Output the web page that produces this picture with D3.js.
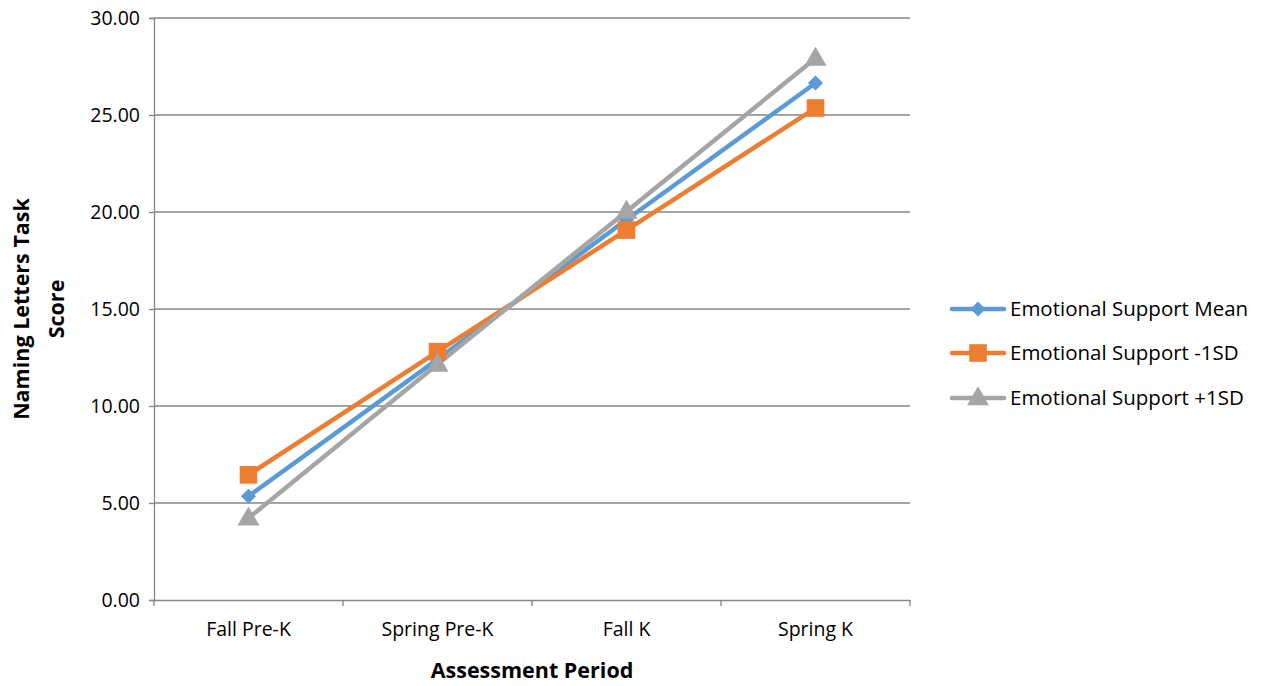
<!DOCTYPE html>
<html><head><meta charset="utf-8">
<script src="https://cdn.jsdelivr.net/npm/d3@7"></script>
<style>body{margin:0;background:#fff}svg{display:block}text{font-family:"Open Sans",Lato,sans-serif}</style>
</head><body><svg id="c" width="1269" height="686"></svg>
<script>
const categories = ["Fall Pre-K","Spring Pre-K","Fall K","Spring K"];
const seriesNames = ["Emotional Support Mean","Emotional Support -1SD","Emotional Support +1SD"];
const meanValues = [5.35, 12.40, 19.60, 26.65];
const minusValues = [6.45, 12.80, 19.07, 25.36];
const plusValues = [4.22, 12.15, 20.03, 27.92];
const yTicks = [0,5,10,15,20,25,30];
const colors = ["#5B9BD5","#ED7D31","#A5A5A5"];
const shapes = ["diamond","square","triangle"];
const series = [meanValues, minusValues, plusValues];

const svg = d3.select("#c");
const L=154,R=910,T=18,B=600;
const x = d3.scaleBand().domain(categories).range([L,R]).padding(0);
const y = d3.scaleLinear().domain([0,30]).range([B,T]);
const grid="#868686";
const FF='"Open Sans",sans-serif';

svg.append("g").selectAll("line").data(yTicks.filter(d=>d>0)).join("line")
  .attr("x1",L).attr("x2",R).attr("y1",d=>y(d)).attr("y2",d=>y(d))
  .attr("stroke",grid).attr("stroke-width",1.3);

const ya = svg.append("g").attr("transform",`translate(${L},0)`)
  .call(d3.axisLeft(y).tickValues(yTicks).tickFormat(d3.format(".2f")).tickSize(5).tickPadding(9));
ya.select(".domain").attr("stroke",grid).attr("stroke-width",1.3);
ya.selectAll(".tick line").attr("stroke",grid).attr("stroke-width",1.3);
ya.selectAll("text").attr("font-size",19.5).attr("fill","#000").style("font-family",FF);

const xa = svg.append("g").attr("transform",`translate(0,${B})`)
  .call(d3.axisBottom(x).tickSize(0).tickPadding(22));
xa.select(".domain").attr("stroke",grid).attr("stroke-width",1.3);
xa.selectAll("text").attr("font-size",19.5).attr("fill","#000").style("font-family",FF);
const bounds = [...categories.map(c=>x(c)), R];
xa.selectAll(".bt").data(bounds).join("line").attr("class","bt")
  .attr("x1",d=>d).attr("x2",d=>d).attr("y1",0).attr("y2",6)
  .attr("stroke",grid).attr("stroke-width",1.3);

const cx = c=>x(c)+x.bandwidth()/2;
function marker(g, shape, color, px, py){
  if(shape==="diamond"){
    g.append("path").attr("d",d3.symbol(d3.symbolSquare,115)()).attr("transform",`translate(${px},${py}) rotate(45)`).attr("fill",color);
  } else if(shape==="square"){
    g.append("path").attr("d",d3.symbol(d3.symbolSquare,310)()).attr("transform",`translate(${px},${py})`).attr("fill",color);
  } else {
    g.append("path").attr("d",d3.symbol(d3.symbolTriangle,210)()).attr("transform",`translate(${px},${py+1})`).attr("fill",color);
  }
}

const line = d3.line().x((d,i)=>cx(categories[i])).y(d=>y(d));
series.forEach((vals,si)=>{
  svg.append("path").attr("d",line(vals)).attr("fill","none").attr("stroke",colors[si]).attr("stroke-width",4.5).attr("stroke-linejoin","round").attr("stroke-linecap","round");
});
series.forEach((vals,si)=>{
  const g = svg.append("g");
  vals.forEach((v,i)=>marker(g,shapes[si],colors[si],cx(categories[i]),y(v)));
});

const legY=[309,353,398];
seriesNames.forEach((n,i)=>{
  const g=svg.append("g");
  g.append("line").attr("x1",952).attr("x2",1004).attr("y1",legY[i]).attr("y2",legY[i]).attr("stroke",colors[i]).attr("stroke-width",4.5).attr("stroke-linecap","round");
  marker(g,shapes[i],colors[i],978,legY[i]);
  g.append("text").attr("x",1010).attr("y",legY[i]).attr("dy","0.35em").attr("font-size",20.5).text(n);
});

svg.append("text").attr("x",532).attr("y",670).attr("dy","0.35em").attr("text-anchor","middle").attr("font-size",21.5).attr("font-weight","bold").text("Assessment Period");
const yt = svg.append("text").attr("transform","translate(38,309) rotate(-90)").attr("text-anchor","middle").attr("font-size",21.5).attr("font-weight","bold");
yt.append("tspan").attr("x",0).attr("y",-17).attr("dy","0.35em").text("Naming Letters Task");
yt.append("tspan").attr("x",0).attr("y",18).attr("dy","0.35em").text("Score");
</script></body></html>
